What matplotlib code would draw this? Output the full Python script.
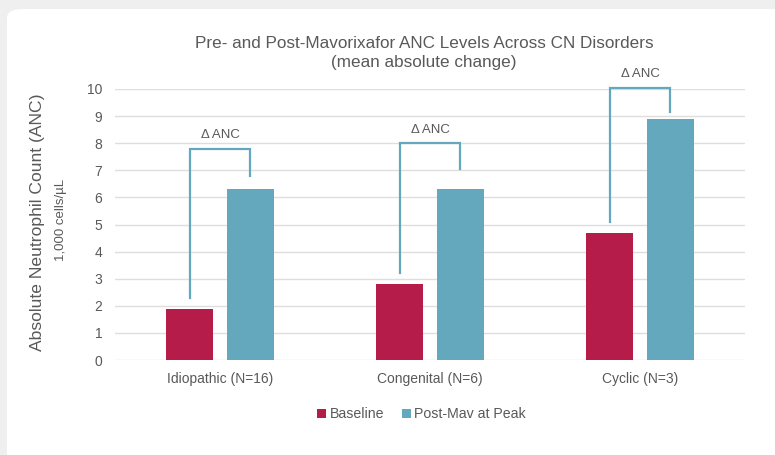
import numpy as np
import matplotlib
matplotlib.use("Agg")
import matplotlib.pyplot as plt
from matplotlib.patches import FancyBboxPatch

plt.rcParams["font.family"] = ["Liberation Sans", "DejaVu Sans"]

# mean ANC (1,000 cells/uL) per disorder
categories = ["Idiopathic (N=16)", "Congenital (N=6)", "Cyclic (N=3)"]
baseline = [1.9, 2.8, 4.7]
post_peak = [6.3, 6.3, 8.9]
series_names = ["Baseline", "Post-Mav at Peak"]
yticks = list(range(0, 11))

red = "#b51c4a"
blue = "#63a8bd"
grey_text = "#595959"

fig = plt.figure(figsize=(7.75, 4.55), dpi=100)
fig.patch.set_facecolor("#efefef")

# white card behind the chart
card = FancyBboxPatch((7 / 775, -0.1), 1.2, 1.1 - 9 / 455,
                      boxstyle="round,pad=0,rounding_size=0.02",
                      transform=fig.transFigure, facecolor="white",
                      edgecolor="none", zorder=-10)
fig.patches.append(card)

ax = fig.add_axes([115 / 775, 95 / 455, 630 / 775, 271 / 455])
ax.set_facecolor("none")
ax.set_zorder(2)

x = np.arange(len(categories))
w = 0.224
off = 0.143
ax.bar(x - off, baseline, w, color=red, label=series_names[0], zorder=3)
ax.bar(x + off, post_peak, w, color=blue, label=series_names[1], zorder=3)

ax.set_xlim(-0.5, 2.5)
ax.set_ylim(0, 10)
ax.set_yticks(yticks)
ax.grid(axis="y", color="#dedede", linewidth=1, zorder=0)
for s in ax.spines.values():
    s.set_visible(False)
ax.tick_params(axis="both", length=0, colors=grey_text, labelsize=10)
ax.tick_params(axis="y", pad=9)
ax.tick_params(axis="x", pad=9)
ax.set_xticks(x)
ax.set_xticklabels(categories, fontsize=10, color=grey_text)

# delta brackets from baseline bar to peak bar
bracket_tops = [7.8, 8.0, 10.05]
right_gaps = [0.5, 0.75, 0.25]
for i in range(len(categories)):
    top = bracket_tops[i]
    xs = [x[i] - off, x[i] - off, x[i] + off, x[i] + off]
    ys = [baseline[i] + 0.4, top, top, post_peak[i] + right_gaps[i]]
    ax.plot(xs, ys, color=blue, linewidth=1.6, clip_on=False, zorder=4,
            solid_joinstyle="miter")
    ax.text(x[i], top + 0.27, "\u0394 ANC", ha="center", va="bottom",
            fontsize=9.5, color=grey_text)

fig.text(424 / 775, 1 - 44 / 455, "Pre- and Post-Mavorixafor ANC Levels Across CN Disorders",
         ha="center", va="center", fontsize=12.3, color=grey_text)
fig.text(424 / 775, 1 - 62 / 455, "(mean absolute change)",
         ha="center", va="center", fontsize=12.3, color=grey_text)

fig.text(38 / 775, 1 - 222 / 455, "Absolute Neutrophil Count (ANC)", rotation=90,
         ha="center", va="center", fontsize=12.6, color=grey_text)
fig.text(61 / 775, 1 - 220 / 455, "1,000 cells/\u00b5L", rotation=90,
         ha="center", va="center", fontsize=9.5, color=grey_text)

leg = ax.legend(loc="center", bbox_to_anchor=(0.487, -0.2), ncol=2, frameon=False,
                handlelength=0.6, handleheight=0.6, handletextpad=0.25,
                columnspacing=1.3, fontsize=10.2)
for t in leg.get_texts():
    t.set_color(grey_text)

fig.savefig("out.png", dpi=100, facecolor=fig.get_facecolor())
